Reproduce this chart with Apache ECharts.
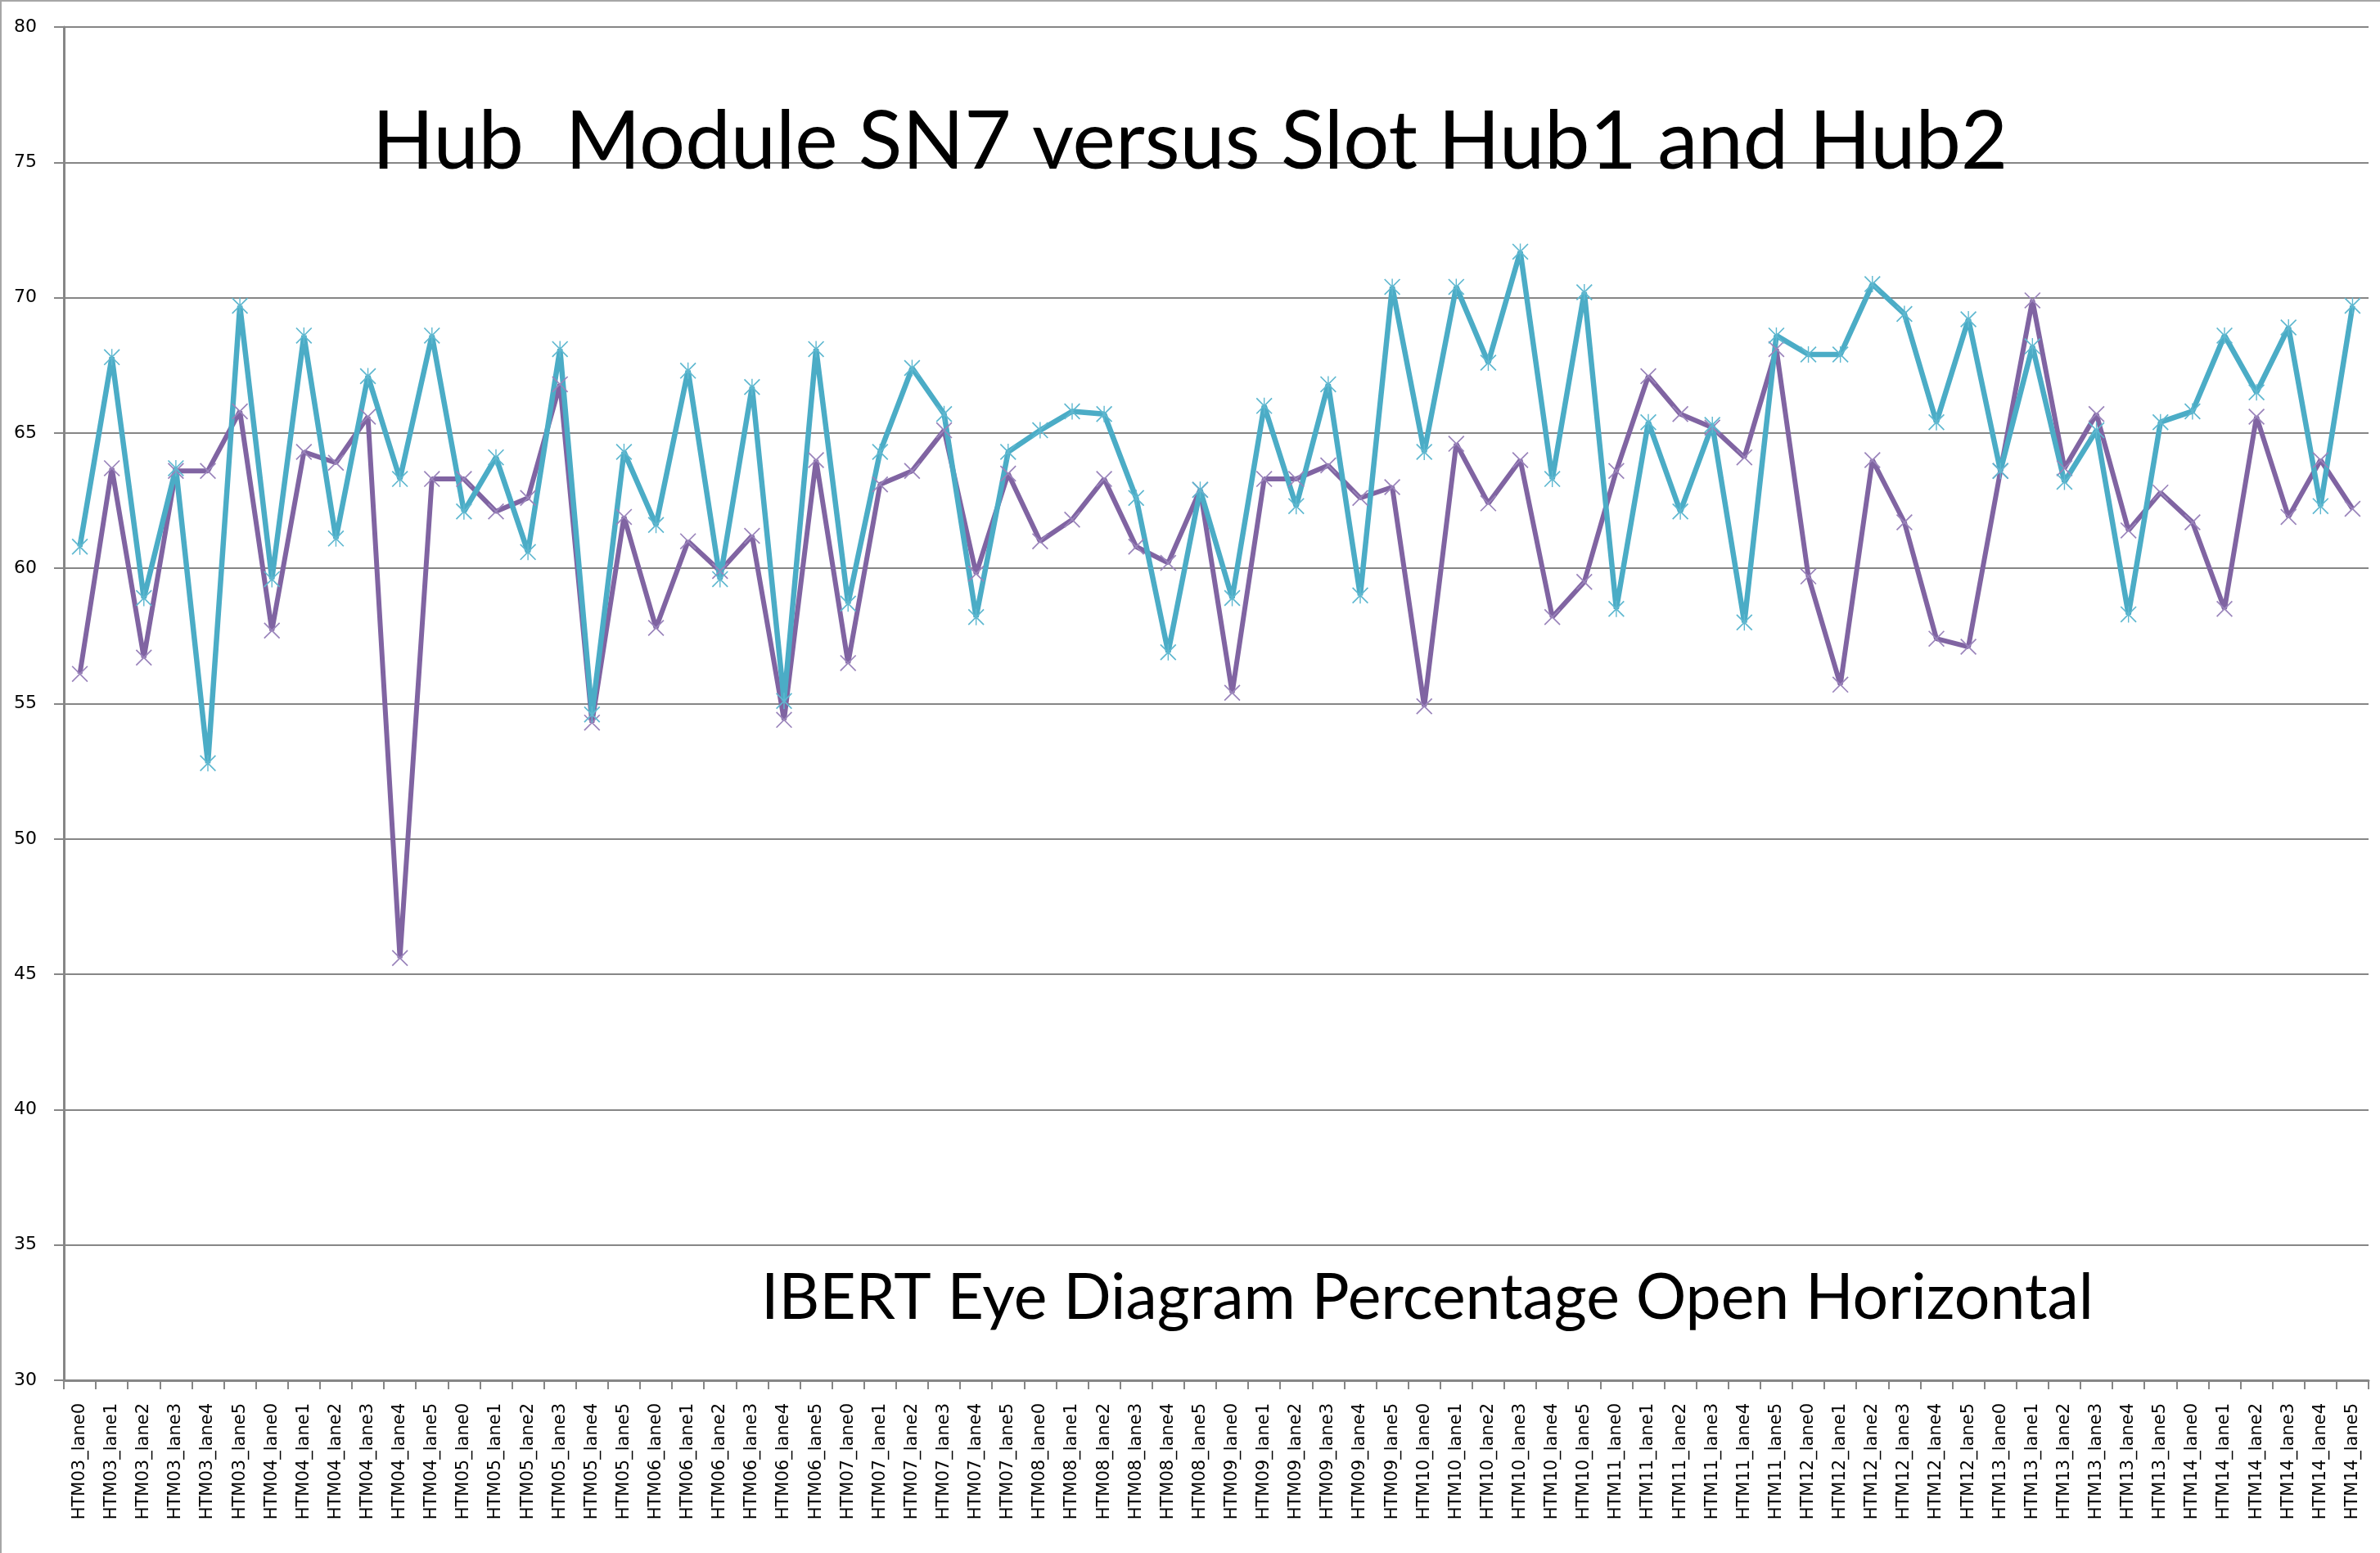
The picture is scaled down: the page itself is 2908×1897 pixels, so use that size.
<!DOCTYPE html>
<html>
<head>
<meta charset="utf-8">
<script src="https://cdn.jsdelivr.net/npm/echarts@6/dist/echarts.min.js"></script>
<style>
html,body{margin:0;padding:0;background:#fff;}
#chart{width:2908px;height:1897px;}
</style>
</head>
<body>
<div id="chart"></div>
<script>
const categories = [
"HTM03_lane0","HTM03_lane1","HTM03_lane2","HTM03_lane3","HTM03_lane4","HTM03_lane5",
"HTM04_lane0","HTM04_lane1","HTM04_lane2","HTM04_lane3","HTM04_lane4","HTM04_lane5",
"HTM05_lane0","HTM05_lane1","HTM05_lane2","HTM05_lane3","HTM05_lane4","HTM05_lane5",
"HTM06_lane0","HTM06_lane1","HTM06_lane2","HTM06_lane3","HTM06_lane4","HTM06_lane5",
"HTM07_lane0","HTM07_lane1","HTM07_lane2","HTM07_lane3","HTM07_lane4","HTM07_lane5",
"HTM08_lane0","HTM08_lane1","HTM08_lane2","HTM08_lane3","HTM08_lane4","HTM08_lane5",
"HTM09_lane0","HTM09_lane1","HTM09_lane2","HTM09_lane3","HTM09_lane4","HTM09_lane5",
"HTM10_lane0","HTM10_lane1","HTM10_lane2","HTM10_lane3","HTM10_lane4","HTM10_lane5",
"HTM11_lane0","HTM11_lane1","HTM11_lane2","HTM11_lane3","HTM11_lane4","HTM11_lane5",
"HTM12_lane0","HTM12_lane1","HTM12_lane2","HTM12_lane3","HTM12_lane4","HTM12_lane5",
"HTM13_lane0","HTM13_lane1","HTM13_lane2","HTM13_lane3","HTM13_lane4","HTM13_lane5",
"HTM14_lane0","HTM14_lane1","HTM14_lane2","HTM14_lane3","HTM14_lane4","HTM14_lane5"
];

const slotHub1 = [
56.1,63.7,56.7,63.6,63.6,65.8, 57.7,64.3,63.9,65.6,45.6,63.3,
63.3,62.1,62.6,66.8,54.3,61.9, 57.8,61.0,59.9,61.2,54.4,64.0,
56.5,63.1,63.6,65.1,59.8,63.5, 61.0,61.8,63.3,60.8,60.2,62.9,
55.4,63.3,63.3,63.8,62.6,63.0, 54.9,64.6,62.4,64.0,58.2,59.5,
63.6,67.1,65.7,65.2,64.1,68.1, 59.7,55.7,64.0,61.7,57.4,57.1,
63.6,69.9,63.7,65.7,61.4,62.8, 61.7,58.5,65.6,61.9,64.0,62.2
];

const slotHub2 = [
60.8,67.8,58.9,63.7,52.8,69.7, 59.6,68.6,61.1,67.1,63.3,68.6,
62.1,64.1,60.6,68.1,54.6,64.3, 61.6,67.3,59.6,66.7,55.1,68.1,
58.7,64.3,67.4,65.7,58.2,64.3, 65.1,65.8,65.7,62.6,56.9,62.9,
58.9,66.0,62.3,66.8,59.0,70.4, 64.3,70.4,67.6,71.7,63.3,70.2,
58.5,65.4,62.1,65.3,58.0,68.6, 67.9,67.9,70.5,69.4,65.4,69.2,
63.6,68.2,63.2,65.1,58.3,65.4, 65.8,68.6,66.5,68.9,62.3,69.7
];

const yTicks = {min: 30, max: 80, interval: 5};
const titleText = "Hub  Module SN7 versus Slot Hub1 and Hub2";
const subtitleText = "IBERT Eye Diagram Percentage Open Horizontal";

const xMark = 'path://M0,1.2 L1.2,0 L20,18.8 L18.8,20 Z M18.8,0 L20,1.2 L1.2,20 L0,18.8 Z';
const starMark = 'path://M0,1.2 L1.2,0 L20,18.8 L18.8,20 Z M18.8,0 L20,1.2 L1.2,20 L0,18.8 Z M9.3,0 L10.7,0 L10.7,20 L9.3,20 Z';

const chart = echarts.init(document.getElementById('chart'), null, {renderer: 'canvas'});
chart.setOption({
  animation: false,
  backgroundColor: '#ffffff',
  grid: {left: 78, right: 14, top: 33, bottom: 211, containLabel: false},
  xAxis: {
    type: 'category',
    data: categories,
    boundaryGap: true,
    axisLine: {show: true, lineStyle: {color: '#868686', width: 3}},
    axisTick: {show: true, interval: 0, length: 11, lineStyle: {color: '#868686', width: 2}},
    axisLabel: {interval: 0, rotate: 90, fontSize: 21, fontFamily: 'DejaVu Sans', color: '#000', margin: 28},
    splitLine: {show: false}
  },
  yAxis: {
    type: 'value',
    min: yTicks.min, max: yTicks.max, interval: yTicks.interval,
    axisLine: {show: true, lineStyle: {color: '#868686', width: 3}},
    axisTick: {show: true, length: 12, lineStyle: {color: '#868686', width: 2}},
    axisLabel: {fontSize: 22, fontFamily: 'DejaVu Sans', color: '#000', margin: 33},
    splitLine: {show: true, lineStyle: {color: '#868686', width: 2}}
  },
  graphic: [
    {type: 'text', z: 100, style: {text: titleText, x: 1454, y: 174, fill: '#000', font: '99px Lato', textAlign: 'center', textVerticalAlign: 'middle'}},
    {type: 'text', z: 100, style: {text: subtitleText, x: 1744, y: 1586, fill: '#000', font: '77px Lato', textAlign: 'center', textVerticalAlign: 'middle'}},
    {type: 'line', shape: {x1: 0, y1: 1, x2: 2908, y2: 1}, style: {stroke: '#a6a6a6', lineWidth: 2}},
    {type: 'line', shape: {x1: 1, y1: 0, x2: 1, y2: 1897}, style: {stroke: '#a6a6a6', lineWidth: 2}}
  ],
  series: [
    {
      name: 'Slot Hub1', type: 'line', data: slotHub1,
      lineStyle: {color: '#8064A2', width: 6},
      itemStyle: {color: '#9a84bb'},
      symbol: xMark, symbolSize: 20, showAllSymbol: true
    },
    {
      name: 'Slot Hub2', type: 'line', data: slotHub2,
      lineStyle: {color: '#4BACC6', width: 6.5},
      itemStyle: {color: '#5fb8d0'},
      symbol: starMark, symbolSize: 20, showAllSymbol: true
    }
  ]
});
</script>
</body>
</html>
